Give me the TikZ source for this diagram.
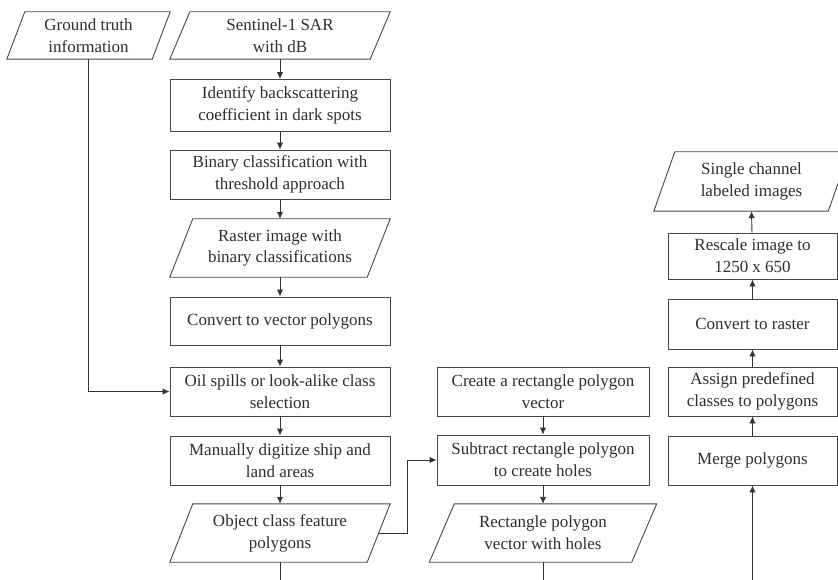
\documentclass[tikz,border=0pt]{standalone}
\usepackage{fontspec}
\setmainfont{Liberation Serif}
\usetikzlibrary{arrows.meta,calc}
\tikzset{
  bd/.style={draw=black!72, line width=0.9pt},
  txt/.style={rectangle, inner sep=0pt, align=center, text=black!82,
    font=\fontsize{17}{21.7}\selectfont},
  box/.style={txt, bd, minimum width=#1},
  arr/.style={draw=black!80, line width=0.9pt, -{Latex[length=7pt,width=6.5pt]}},
  ln/.style={draw=black!80, line width=0.9pt},
}
\newcommand\mkpara[7]{%
  \node[txt, minimum width=#4, minimum height=#5] (#1) at (#2,#3) {#7};
  \draw[bd] ($(#1.south west)+(-#6/2,0)$) -- ($(#1.south east)+(-#6/2,0)$)
     -- ($(#1.north east)+(#6/2,0)$) -- ($(#1.north west)+(#6/2,0)$) -- cycle;}
\begin{document}
\begin{tikzpicture}[x=1pt,y=-1pt]
\clip (0,0) rectangle (838,580);
% left / main column
\mkpara{gt}{88.5}{35.5}{145}{47}{18}{Ground truth\\information}
\mkpara{sent}{280}{35.5}{200}{47}{20}{Sentinel-1 SAR\\with dB}
\node[box=220pt, minimum height=52pt] (ident) at (280,105.5) {Identify backscattering\\coefficient in dark spots};
\node[box=220pt, minimum height=49pt] (bin) at (280,174.5) {Binary classification with\\threshold approach};
\mkpara{rast}{280}{248}{197}{58}{23}{Raster image with\\binary classifications}
\node[box=220pt, minimum height=48pt] (vec) at (280,321) {Convert to vector polygons};
\node[box=220pt, minimum height=49pt] (oil) at (280,391.5) {Oil spills or look-alike class\\selection};
\node[box=220pt, minimum height=49pt] (man) at (280,460.5) {Manually digitize ship and\\land areas};
\mkpara{obj}{280}{533}{197}{58}{23}{Object class feature\\polygons}
% middle column
\node[box=212pt, minimum height=49pt] (cre) at (543,391.5) {Create a rectangle polygon\\vector};
\node[box=212pt, minimum height=50pt] (sub) at (543,460) {Subtract rectangle polygon\\to create holes};
\mkpara{rect}{543}{533}{202}{58}{25}{Rectangle polygon\\vector with holes}
% right column
\mkpara{sing}{751.5}{181.5}{174}{59}{21}{Single channel\\labeled images}
\node[box=169pt, minimum height=46pt] (resc) at (752.5,256) {Rescale image to\\1250 x 650};
\node[box=169pt, minimum height=50pt] (ras) at (752.5,324) {Convert to raster};
\node[box=169pt, minimum height=49pt] (asg) at (752.5,391.5) {Assign predefined\\classes to polygons};
\node[box=169pt, minimum height=49pt] (mer) at (752.5,460.5) {Merge polygons};
% free ends
\coordinate (objend) at (280,580);
\coordinate (rectend) at (543,580);
\coordinate (merstart) at (752.5,580);
\coordinate (bend) at (407,533);
% connectors
\draw[arr] (sent.south) -- (ident.north);
\draw[arr] (ident) -- (bin);
\draw[arr] (bin) -- (rast.north);
\draw[arr] (rast.south) -- (vec);
\draw[arr] (vec) -- (oil);
\draw[arr] (oil) -- (man);
\draw[arr] (man) -- (obj.north);
\draw[ln] (obj.south) -- (objend);
\draw[arr] (gt.south) |- (oil.west);
\draw[arr] (obj.east) -- (bend) |- (sub.west);
\draw[arr] (cre) -- (sub);
\draw[arr] (sub) -- (rect.north);
\draw[ln] (rect.south) -- (rectend);
\draw[arr] (merstart) -- (mer);
\draw[arr] (mer) -- (asg);
\draw[arr] (asg) -- (ras);
\draw[arr] (ras) -- (resc);
\draw[arr] (resc) -- (sing.south);
\end{tikzpicture}
\end{document}
